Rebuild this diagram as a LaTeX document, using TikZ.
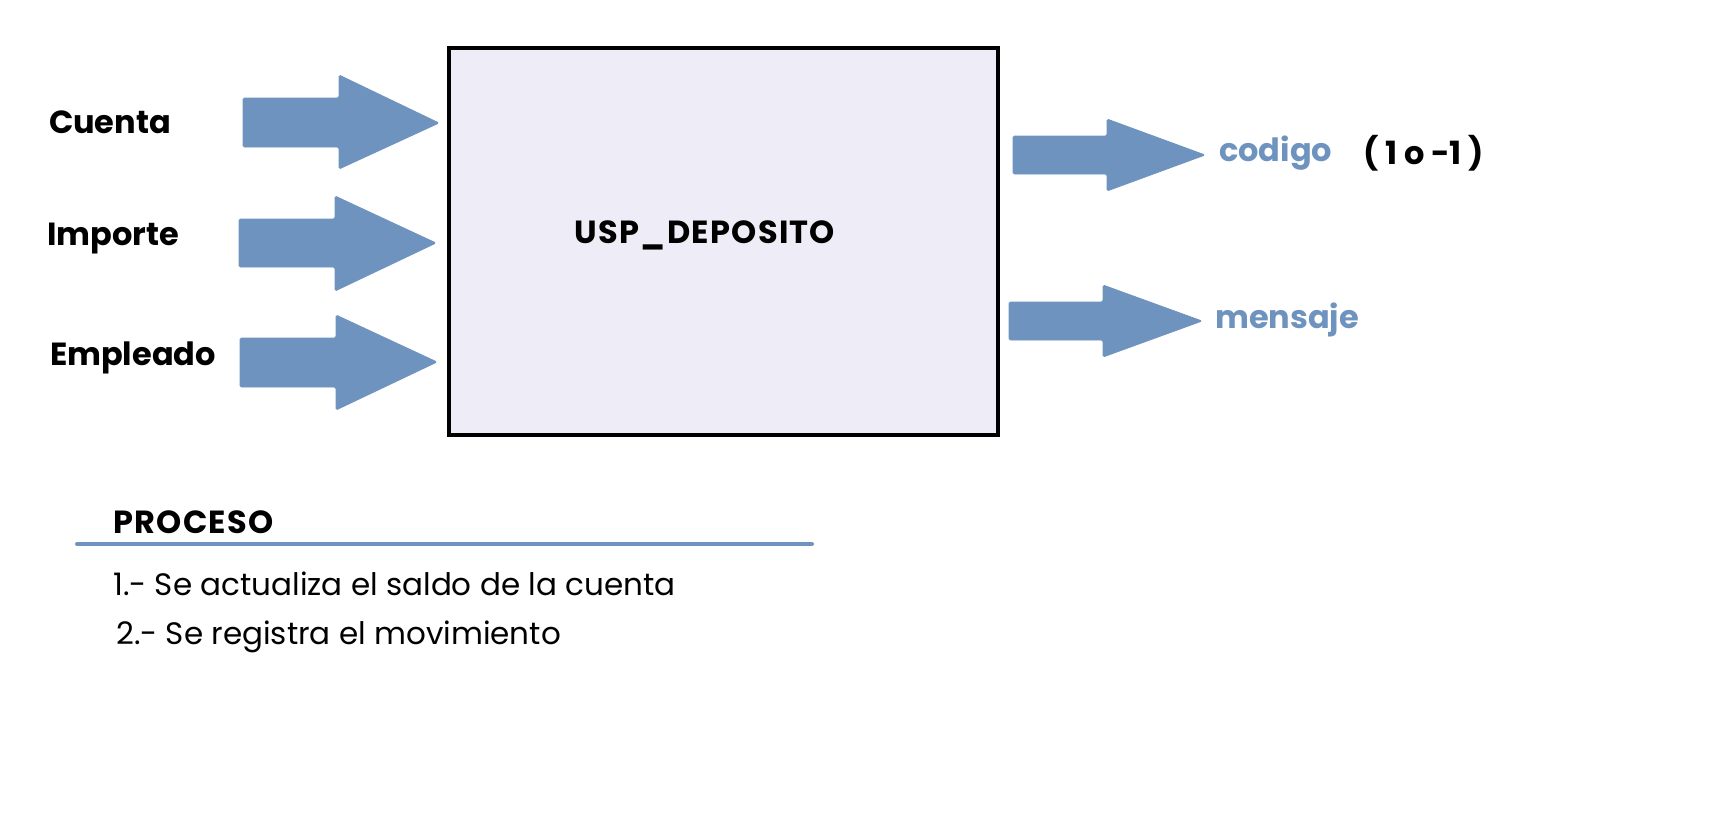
\documentclass[tikz,border=0pt]{standalone}
\usepackage{fontspec}
\setmainfont{Poppins}
\definecolor{arrowblue}{RGB}{111,147,191}
\definecolor{boxfill}{RGB}{238,237,247}
\begin{document}
\begin{tikzpicture}[x=1pt,y=-1pt,
  blockarrow/.style={fill=arrowblue,draw=arrowblue,line width=0.8pt,rounded corners=1.5pt},
  inlabel/.style={font=\fontsize{32}{38}\selectfont\bfseries,text=black,inner sep=0pt},
  capslabel/.style={font=\fontsize{32}{38}\selectfont\bfseries\addfontfeature{LetterSpace=4},text=black,inner sep=0pt},
  outlabel/.style={font=\fontsize{32}{38}\selectfont\bfseries,text=arrowblue,inner sep=0pt},
  listtext/.style={font=\fontsize{31}{36}\selectfont,text=black,inner sep=0pt,anchor=west}]
\useasboundingbox (0,0) rectangle (1728,812);
% main box
\node[draw=black,line width=4pt,fill=boxfill,minimum width=549pt,minimum height=387pt,inner sep=0pt] (box) at (723.5,241.5) {};
\node[capslabel] (usp) at (705,235) {USP\_DEPOSITO};
% input arrows
\draw[blockarrow] (243,98) -- (339,98) -- (339,75) -- (439,123) -- (339,169) -- (339,147) -- (243,147) -- cycle;
\draw[blockarrow] (239,219) -- (335,219) -- (335,196) -- (436,243) -- (335,291) -- (335,267) -- (239,267) -- cycle;
\draw[blockarrow] (240,338) -- (336,338) -- (336,315) -- (437,362) -- (336,410) -- (336,387) -- (240,387) -- cycle;
\node[inlabel] (cuenta) at (110,122) {Cuenta};
\node[inlabel] (importe) at (113,239) {Importe};
\node[inlabel] (empleado) at (133,358) {Empleado};
% output arrows
\draw[blockarrow] (1013,136) -- (1107,136) -- (1107,119) -- (1205,155) -- (1107,191) -- (1107,174) -- (1013,174) -- cycle;
\draw[blockarrow] (1009,302) -- (1103,302) -- (1103,285) -- (1202,321) -- (1103,357) -- (1103,340) -- (1009,340) -- cycle;
\node[outlabel,anchor=west] (codigo) at (1219,153) {codigo};
\node[inlabel,anchor=west] (range) at (1363,153) {( 1 o -1 )};
\node[outlabel,anchor=west] (mensaje) at (1215,320) {mensaje};
% process
\node[capslabel,anchor=west] (proceso) at (113,522) {PROCESO};
\coordinate (ruleL) at (77,544);
\coordinate (ruleR) at (812,544);
\draw[arrowblue,line width=4pt,line cap=round] (ruleL) -- (ruleR);
\node[listtext] (step1) at (113,584) {1.- Se actualiza el saldo de la cuenta};
\node[listtext] (step2) at (116,637) {2.- Se registra el movimiento};
\end{tikzpicture}
\end{document}
